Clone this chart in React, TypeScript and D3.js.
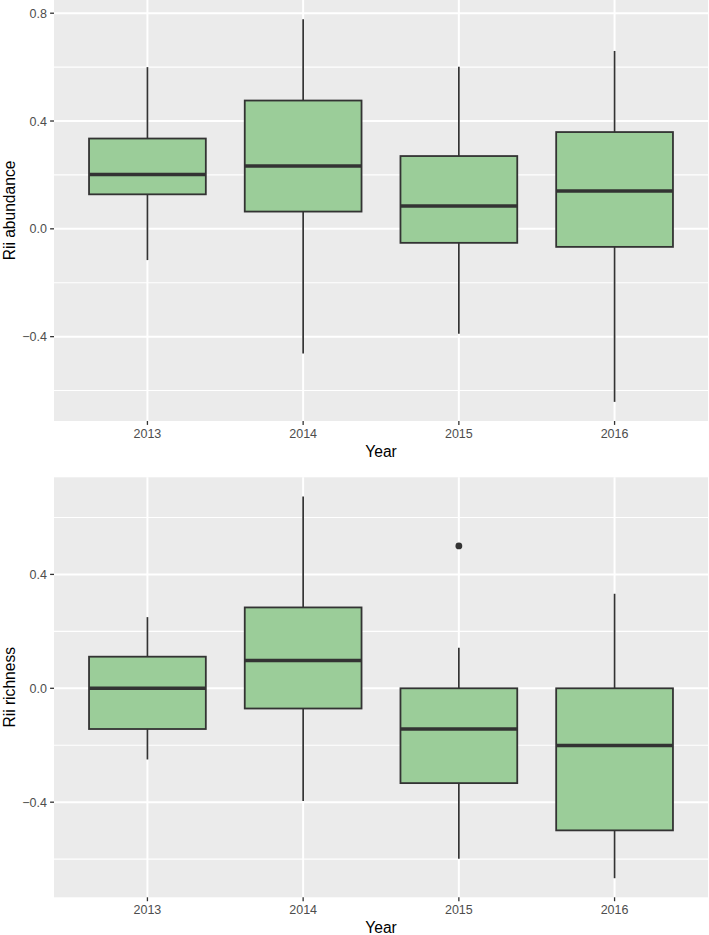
import React from "react";
import * as d3 from "d3";

const years = ["2013", "2014", "2015", "2016"];

// Rii abundance (top panel)
const abundLow = [-0.116, -0.463, -0.389, -0.642];
const abundQ1 = [0.128, 0.064, -0.052, -0.067];
const abundMed = [0.202, 0.233, 0.085, 0.14];
const abundQ3 = [0.335, 0.476, 0.27, 0.359];
const abundHigh = [0.6, 0.778, 0.601, 0.66];
const abundOutYears: string[] = [];
const abundOutVals: number[] = [];
const abundTicks = [-0.4, 0.0, 0.4, 0.8];

// Rii richness (bottom panel)
const richLow = [-0.25, -0.396, -0.599, -0.667];
const richQ1 = [-0.143, -0.071, -0.333, -0.499];
const richMed = [0.0, 0.098, -0.143, -0.201];
const richQ3 = [0.111, 0.284, 0.0, 0.0];
const richHigh = [0.25, 0.674, 0.142, 0.332];
const richOutYears = ["2015"];
const richOutVals = [0.5];
const richTicks = [-0.4, 0.0, 0.4];

const W = 709;
const H = 935;
const LEFT = 54;
const RIGHT = 708;
const FILL = "#9BCD99";
const STROKE = "#333333";
const FONT = "'Liberation Sans', Arial, Helvetica, sans-serif";

type PanelProps = {
  top: number;
  bottom: number;
  low: number[];
  q1: number[];
  med: number[];
  q3: number[];
  high: number[];
  outYears: string[];
  outVals: number[];
  ticks: number[];
  title: string;
};

function Panel(p: PanelProps) {
  const all = [...p.low, ...p.high, ...p.outVals];
  const lo = d3.min(all) as number;
  const hi = d3.max(all) as number;
  const pad = (hi - lo) * 0.05;
  const y = d3.scaleLinear().domain([lo - pad, hi + pad]).range([p.bottom, p.top]);
  const x = d3.scalePoint<string>().domain(years).range([LEFT, RIGHT]).padding(0.6);
  const bw = x.step() * 0.75;
  const fmt = d3.format(".1f");
  const step = p.ticks[1] - p.ticks[0];
  const [d0, d1] = y.domain();
  const minors: number[] = [];
  p.ticks.forEach((t) => {
    [t - step / 2, t + step / 2].forEach((m) => {
      if (m >= d0 && m <= d1 && !minors.some((q) => Math.abs(q - m) < 1e-9)) minors.push(m);
    });
  });
  const mid = (p.top + p.bottom) / 2;

  return (
    <g>
      <rect x={LEFT} y={p.top} width={RIGHT - LEFT} height={p.bottom - p.top} fill="#EBEBEB" />
      {minors.map((m, i) => (
        <line key={"mn" + i} x1={LEFT} x2={RIGHT} y1={y(m)} y2={y(m)} stroke="#FFFFFF" strokeWidth={1.1} />
      ))}
      {p.ticks.map((t, i) => (
        <line key={"mj" + i} x1={LEFT} x2={RIGHT} y1={y(t)} y2={y(t)} stroke="#FFFFFF" strokeWidth={2} />
      ))}
      {years.map((yr) => (
        <line key={"vx" + yr} x1={x(yr)} x2={x(yr)} y1={p.top} y2={p.bottom} stroke="#FFFFFF" strokeWidth={2} />
      ))}
      {years.map((yr, i) => {
        const cx = x(yr) as number;
        return (
          <g key={"box" + yr}>
            <line x1={cx} x2={cx} y1={y(p.high[i])} y2={y(p.q3[i])} stroke={STROKE} strokeWidth={1.7} />
            <line x1={cx} x2={cx} y1={y(p.q1[i])} y2={y(p.low[i])} stroke={STROKE} strokeWidth={1.7} />
            <rect
              x={cx - bw / 2}
              y={y(p.q3[i])}
              width={bw}
              height={y(p.q1[i]) - y(p.q3[i])}
              fill={FILL}
              stroke={STROKE}
              strokeWidth={1.8}
            />
            <line x1={cx - bw / 2} x2={cx + bw / 2} y1={y(p.med[i])} y2={y(p.med[i])} stroke={STROKE} strokeWidth={3.5} />
          </g>
        );
      })}
      {p.outYears.map((yr, i) => (
        <circle key={"o" + i} cx={x(yr)} cy={y(p.outVals[i])} r={3.4} fill={STROKE} />
      ))}
      {p.ticks.map((t, i) => (
        <g key={"yt" + i}>
          <line x1={LEFT - 3.9} x2={LEFT} y1={y(t)} y2={y(t)} stroke={STROKE} strokeWidth={1.3} />
          <text
            x={LEFT - 7}
            y={y(t)}
            dy="0.36em"
            textAnchor="end"
            fontSize={12.5}
            fill="#4D4D4D"
            fontFamily={FONT}
          >
            {fmt(t)}
          </text>
        </g>
      ))}
      {years.map((yr) => (
        <g key={"xt" + yr}>
          <line x1={x(yr)} x2={x(yr)} y1={p.bottom} y2={p.bottom + 3.9} stroke={STROKE} strokeWidth={1.3} />
          <text x={x(yr)} y={p.bottom + 17} textAnchor="middle" fontSize={12.5} fill="#4D4D4D" fontFamily={FONT}>
            {yr}
          </text>
        </g>
      ))}
      <text
        x={(LEFT + RIGHT) / 2}
        y={p.bottom + 35.5}
        textAnchor="middle"
        fontSize={15.6}
        fill="#000000"
        fontFamily={FONT}
      >
        Year
      </text>
      <text
        transform={`translate(15,${mid}) rotate(-90)`}
        textAnchor="middle"
        fontSize={15.6}
        fill="#000000"
        fontFamily={FONT}
      >
        {p.title}
      </text>
    </g>
  );
}

export default function App() {
  return (
    <svg
      width={W}
      height={H}
      viewBox={`0 0 ${W} ${H}`}
      style={{ position: "absolute", left: 0, top: 0, background: "#FFFFFF" }}
    >
      <rect x={0} y={0} width={W} height={H} fill="#FFFFFF" />
      <Panel
        top={0}
        bottom={421}
        low={abundLow}
        q1={abundQ1}
        med={abundMed}
        q3={abundQ3}
        high={abundHigh}
        outYears={abundOutYears}
        outVals={abundOutVals}
        ticks={abundTicks}
        title="Rii abundance"
      />
      <Panel
        top={477.3}
        bottom={897.3}
        low={richLow}
        q1={richQ1}
        med={richMed}
        q3={richQ3}
        high={richHigh}
        outYears={richOutYears}
        outVals={richOutVals}
        ticks={richTicks}
        title="Rii richness"
      />
    </svg>
  );
}
